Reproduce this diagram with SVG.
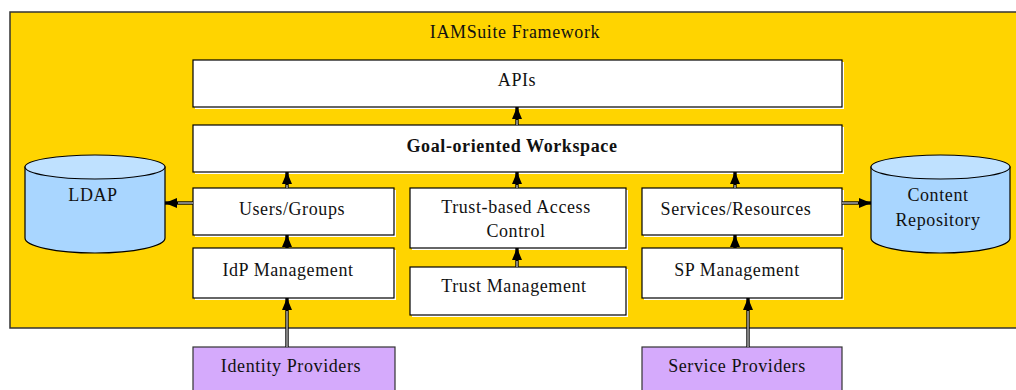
<svg xmlns="http://www.w3.org/2000/svg" width="1016" height="390" viewBox="0 0 1016 390">
<style>
.box{fill:#fff;stroke:#000;stroke-width:1.2}
.sh{fill:#fff}
.t{font-family:"Liberation Serif","Times New Roman",serif;font-size:18px;letter-spacing:0.6px;fill:#111;text-anchor:middle}
.b{font-weight:bold}
.cyl{fill:#A9D6FF;stroke:#000;stroke-width:1.2}
.cyltop{fill:#BFE1FF;stroke:#000;stroke-width:1.2}
.prov{fill:#D5AAFC;stroke:#333;stroke-width:1.2}
.lo{stroke:#000;stroke-width:3.4;fill:none}
.li{stroke:#fff;stroke-width:1;fill:none}
</style>
<defs>
<marker id="ah" viewBox="0 0 12 10" refX="12" refY="5" markerWidth="12" markerHeight="10" markerUnits="userSpaceOnUse" orient="auto">
<path d="M0,0 L12,5 L0,10 Z" fill="#000"/>
</marker>
</defs>
<rect x="10" y="12" width="1020" height="316" fill="#FFD400" stroke="#333" stroke-width="1.5"/>
<text class="t" x="515" y="38">IAMSuite Framework</text>

<g id="apis"><rect class="sh" x="195" y="62" width="649" height="47"/><rect class="box" x="193" y="60" width="649" height="47"/><text class="t" x="517" y="86">APIs</text></g>
<g id="workspace"><rect class="sh" x="195" y="127" width="649" height="47"/><rect class="box" x="193" y="125" width="649" height="47"/><text class="t b" x="512" y="152">Goal-oriented Workspace</text></g>
<g id="users"><rect class="sh" x="195" y="190" width="201" height="47"/><rect class="box" x="193" y="188" width="201" height="47"/><text class="t" x="292" y="215">Users/Groups</text></g>
<g id="idp"><rect class="sh" x="195" y="250" width="201" height="50"/><rect class="box" x="193" y="248" width="201" height="50"/><text class="t" x="288" y="276">IdP Management</text></g>
<g id="tbac"><rect class="sh" x="412" y="190" width="216" height="60"/><rect class="box" x="410" y="188" width="216" height="60"/><text class="t" x="516" y="213">Trust-based Access</text><text class="t" x="516" y="237">Control</text></g>
<g id="trustmgmt"><rect class="sh" x="412" y="269" width="216" height="48"/><rect class="box" x="410" y="267" width="216" height="48"/><text class="t" x="514" y="292">Trust Management</text></g>
<g id="services"><rect class="sh" x="644" y="190" width="200" height="47"/><rect class="box" x="642" y="188" width="200" height="47"/><text class="t" x="736" y="215">Services/Resources</text></g>
<g id="spmgmt"><rect class="sh" x="644" y="250" width="200" height="50"/><rect class="box" x="642" y="248" width="200" height="50"/><text class="t" x="737" y="276">SP Management</text></g>

<g id="ldap">
<path class="cyl" d="M25,167 L25,238 A70,15 0 0 0 165,238 L165,167 Z"/>
<ellipse class="cyltop" cx="95" cy="167" rx="70" ry="12"/>
<text class="t" x="93" y="201">LDAP</text>
</g>
<g id="content">
<path class="cyl" d="M871,167 L871,238 A69.5,15 0 0 0 1010,238 L1010,167 Z"/>
<ellipse class="cyltop" cx="940.5" cy="167" rx="69.5" ry="12"/>
<text class="t" x="938" y="201">Content</text>
<text class="t" x="938" y="226">Repository</text>
</g>

<g id="idproviders"><rect class="prov" x="193" y="347" width="202" height="50"/><text class="t" x="291" y="372">Identity Providers</text></g>
<g id="sproviders"><rect class="prov" x="642" y="347" width="200" height="50"/><text class="t" x="737" y="372">Service Providers</text></g>

<g id="connectors">
<path class="lo" d="M517,125 L517,107" marker-end="url(#ah)"/>
<path class="lo" d="M287,188 L287,172" marker-end="url(#ah)"/>
<path class="lo" d="M287,248 L287,235" marker-end="url(#ah)"/>
<path class="lo" d="M517,188 L517,172" marker-end="url(#ah)"/>
<path class="lo" d="M517,267 L517,248" marker-end="url(#ah)"/>
<path class="lo" d="M735,188 L735,172" marker-end="url(#ah)"/>
<path class="lo" d="M735,248 L735,235" marker-end="url(#ah)"/>
<path class="lo" d="M287,347 L287,298" marker-end="url(#ah)"/>
<path class="lo" d="M748,347 L748,298" marker-end="url(#ah)"/>
<path class="lo" d="M193,203 L165,203" marker-end="url(#ah)"/>
<path class="lo" d="M842,203 L871,203" marker-end="url(#ah)"/>
<path class="li" d="M287,347 L287,311 M748,347 L748,311 M193,203 L178,203 M842,203 L858,203 M517,125 L517,120 M517,267 L517,261 M287,188 L287,185 M517,188 L517,185 M735,188 L735,185"/>
</g>
</svg>
